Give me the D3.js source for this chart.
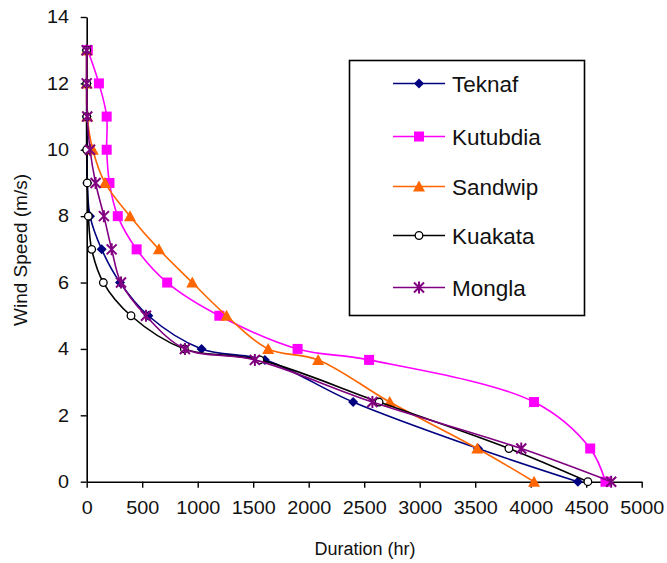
<!DOCTYPE html>
<html>
<head>
<meta charset="utf-8">
<script src="https://cdn.jsdelivr.net/npm/d3@7"></script>
<style>
  html, body { margin: 0; padding: 0; background: #fff; }
  svg { display: block; font-family: "Liberation Sans", Arial, sans-serif; }
</style>
</head>
<body>
<svg id="chart" width="667" height="563"></svg>
<script>
// Wind speed levels (m/s) shared by all stations
const windSpeed = [13, 12, 11, 10, 9, 8, 7, 6, 5, 4, 3.67, 2.4, 1, 0];

// Duration (hr) at which each wind speed level is reached, per station
const teknaf   = [0, 0, 0, 0, 5, 30, 135, 300, 555, 1035, 1605, 2400, 3525, 4425];
const kutubdia = [10, 110, 180, 180, 205, 280, 450, 725, 1195, 1900, 2544, 4030, 4536, 4674];
const sandwip  = [0, 0, 5, 55, 165, 390, 651, 951, 1260, 1635, 2085, 2730, 3519, 4030];
const kuakata  = [0, 0, 0, 0, 5, 15, 45, 150, 399, 880, 1560, 2634, 3804, 4515];
const mongla   = [0, 0, 5, 30, 80, 155, 225, 309, 534, 885, 1515, 2574, 3915, 4725];

const stationNames = ["Teknaf", "Kutubdia", "Sandwip", "Kuakata", "Mongla"];
const stationValues = [teknaf, kutubdia, sandwip, kuakata, mongla];
const stationColors = ["#000080", "#ff00ff", "#ff6600", "#000000", "#800080"];
const stationMarkers = ["diamond", "square", "triangle", "circle", "star"];

const xTicks = d3.range(0, 5001, 500);
const yTicks = d3.range(0, 15, 2);

const svg = d3.select("#chart");

const x = d3.scaleLinear().domain([0, 5000]).range([86.7, 641.7]);
const y = d3.scaleLinear().domain([0, 14]).range([481.7, 17]);

// Axes
const xAxis = svg.append("g")
  .attr("transform", `translate(0,${y(0)})`)
  .call(d3.axisBottom(x).tickValues(xTicks).tickFormat(d3.format("d"))
    .tickSize(6).tickSizeOuter(0).tickPadding(14));
const yAxis = svg.append("g")
  .attr("transform", `translate(${x(0)},0)`)
  .call(d3.axisLeft(y).tickValues(yTicks).tickFormat(d3.format("d"))
    .tickSize(6).tickSizeOuter(0).tickPadding(10));

[xAxis, yAxis].forEach(g => {
  g.select(".domain").attr("stroke", "#000").attr("stroke-width", 1.6);
  g.selectAll(".tick line").attr("stroke", "#000").attr("stroke-width", 1.4);
  g.selectAll(".tick text")
    .attr("fill", "#111")
    .style("font-size", "18px")
    .attr("transform", "scale(1.1,1)");
});

// Axis titles
svg.append("text")
  .attr("x", 365).attr("y", 555)
  .attr("text-anchor", "middle")
  .attr("fill", "#111")
  .style("font-size", "18px")
  .text("Duration (hr)");

svg.append("text")
  .attr("transform", "translate(27,250) rotate(-90)")
  .attr("text-anchor", "middle")
  .attr("fill", "#111")
  .style("font-size", "19px")
  .text("Wind Speed (m/s)");

// Marker shapes
function drawMarker(sel, type, color) {
  if (type === "diamond") {
    sel.append("path").attr("d", "M0,-5L5,0L0,5L-5,0Z").attr("fill", color);
  } else if (type === "square") {
    sel.append("rect").attr("x", -5).attr("y", -5).attr("width", 10).attr("height", 10).attr("fill", color);
  } else if (type === "triangle") {
    sel.append("path").attr("d", "M0,-6L6,5L-6,5Z").attr("fill", color);
  } else if (type === "circle") {
    sel.append("circle").attr("r", 3.8).attr("fill", "#fff").attr("stroke", color).attr("stroke-width", 1.3);
  } else if (type === "star") {
    sel.append("path").attr("d", "M-5,-5L5,5M-5,5L5,-5M0,-6L0,6")
      .attr("stroke", color).attr("stroke-width", 2).attr("fill", "none");
  }
}

const line = d3.line()
  .x(d => x(d[0]))
  .y(d => y(d[1]))
  .curve(d3.curveCatmullRom.alpha(0.5));

stationValues.forEach((vals, i) => {
  const pts = vals.map((v, j) => [v, windSpeed[j]]);
  const g = svg.append("g");
  g.append("path")
    .datum(pts)
    .attr("d", line)
    .attr("fill", "none")
    .attr("stroke", stationColors[i])
    .attr("stroke-width", 1.6);
  g.selectAll("g.pt")
    .data(pts)
    .join("g")
    .attr("class", "pt")
    .attr("transform", d => `translate(${x(d[0])},${y(d[1])})`)
    .each(function () { drawMarker(d3.select(this), stationMarkers[i], stationColors[i]); });
});

// Legend
const legend = svg.append("g");
legend.append("rect")
  .attr("x", 349.5).attr("y", 60.5).attr("width", 235).attr("height", 255)
  .attr("fill", "#fff").attr("stroke", "#000").attr("stroke-width", 1.6);

const legendY = [83.5, 136.5, 186.5, 235.5, 287.5];
stationNames.forEach((name, i) => {
  const row = legend.append("g").attr("transform", `translate(0,${legendY[i]})`);
  row.append("line")
    .attr("x1", 393).attr("x2", 445).attr("y1", 0).attr("y2", 0)
    .attr("stroke", stationColors[i]).attr("stroke-width", 1.6);
  drawMarker(row.append("g").attr("transform", "translate(419,0)"), stationMarkers[i], stationColors[i]);
  row.append("text")
    .attr("x", 452).attr("y", 0).attr("dy", "0.36em")
    .attr("fill", "#111")
    .style("font-size", "22.5px")
    .text(name);
});
</script>
</body>
</html>
